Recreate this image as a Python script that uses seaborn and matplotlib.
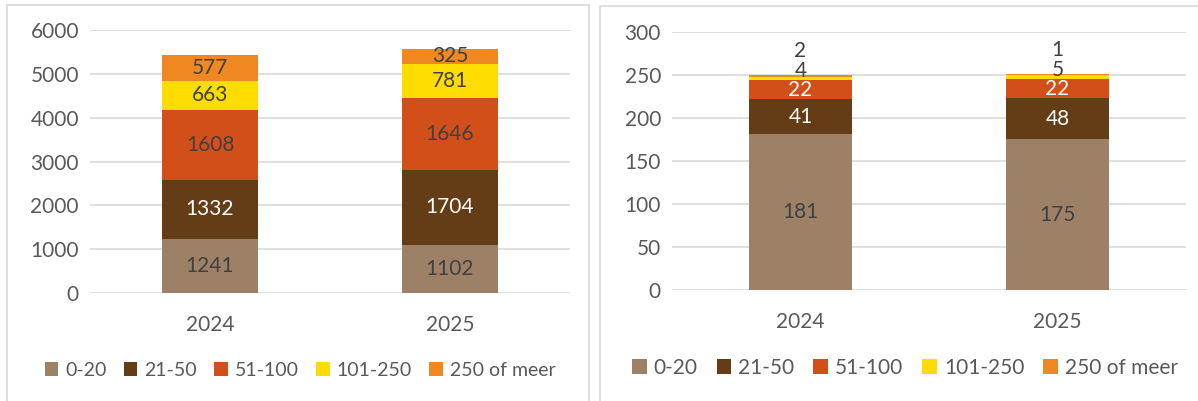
import numpy as np
import pandas as pd
import matplotlib
matplotlib.use("Agg")
import matplotlib.pyplot as plt
from matplotlib.patches import Patch, Rectangle
import seaborn as sns

# data
years = ["2024", "2025"]
classes = ["0-20", "21-50", "51-100", "101-250", "250 of meer"]
left_values = {
    "0-20": [1241, 1102],
    "21-50": [1332, 1704],
    "51-100": [1608, 1646],
    "101-250": [663, 781],
    "250 of meer": [577, 325],
}
right_values = {
    "0-20": [181, 175],
    "21-50": [41, 48],
    "51-100": [22, 22],
    "101-250": [4, 5],
    "250 of meer": [2, 1],
}
colors = ["#9C8166", "#643C15", "#D34F1A", "#FFDC00", "#EF8820"]

sns.set_theme(style="white")
plt.rcParams['font.family'] = ['Lato', 'DejaVu Sans']

TXT = "#595959"
LBL = "#404040"


def stacked(ax, values, ymax, step, white_cls, small_offsets):
    df = pd.DataFrame(values, index=years)
    cum = df.cumsum(axis=1)
    # draw tallest first so lower layers sit on top
    for cls, col in reversed(list(zip(classes, colors))):
        sns.barplot(x=years, y=cum[cls].values, color=col, width=0.4,
                    saturation=1, ax=ax, zorder=3, edgecolor="none")
    # segment labels
    for i, yr in enumerate(years):
        bottom = 0
        for cls in classes:
            v = df.loc[yr, cls]
            mid = bottom + v / 2
            c = "white" if cls in white_cls else LBL
            dy = small_offsets.get((i, cls), 0)
            ax.annotate(str(v), (i, mid), xytext=(0, dy), textcoords="offset points",
                        ha="center", va="center", fontsize=15, color=c, zorder=5)
            bottom += v
    ax.set_xlim(-0.5, 1.5)
    ax.set_ylim(0, ymax)
    ax.set_yticks(np.arange(0, ymax + 1, step))
    ax.yaxis.grid(True, color="#D9D9D9", linewidth=1.2, zorder=0)
    ax.xaxis.grid(False)
    for s in ax.spines.values():
        s.set_visible(False)
    ax.tick_params(axis="both", length=0, labelsize=15, colors=TXT, pad=8)
    ax.tick_params(axis="x", pad=16)
    ax.set_xlabel("")
    ax.set_ylabel("")


fig = plt.figure(figsize=(11.98, 4.01), dpi=100)

# panel frames
fig.add_artist(Rectangle((7 / 1198, -0.1), 582 / 1198, 1.1 - 5 / 401,
                         transform=fig.transFigure, fill=False,
                         edgecolor="#D9D9D9", linewidth=1.2))
fig.add_artist(Rectangle((600 / 1198, -0.1), 620 / 1198, 1.1 - 6 / 401,
                         transform=fig.transFigure, fill=False,
                         edgecolor="#D9D9D9", linewidth=1.2))

ax1 = fig.add_axes([90 / 1198, 1 - 293 / 401, 480 / 1198, 263 / 401])
stacked(ax1, left_values, 6000, 1000, ["21-50"], {})

ax2 = fig.add_axes([672 / 1198, 1 - 290 / 401, 514 / 1198, 258 / 401])
stacked(ax2, right_values, 300, 50, ["21-50", "51-100"],
        {(0, "101-250"): 5, (0, "250 of meer"): 18,
         (1, "101-250"): 5, (1, "250 of meer"): 18})

handles = [Patch(facecolor=c, edgecolor="none") for c in colors]
for cx, cy, fs in [(300 / 1198, 1 - 370 / 401, 14), (905 / 1198, 1 - 368 / 401, 15)]:
    leg = fig.legend(handles, classes, loc="center", bbox_to_anchor=(cx, cy),
                     ncol=5, frameon=False, fontsize=fs, handlelength=0.7,
                     handleheight=0.7, handletextpad=0.35, columnspacing=0.9)
    for t in leg.get_texts():
        t.set_color(TXT)

fig.savefig("out.png", dpi=100)
